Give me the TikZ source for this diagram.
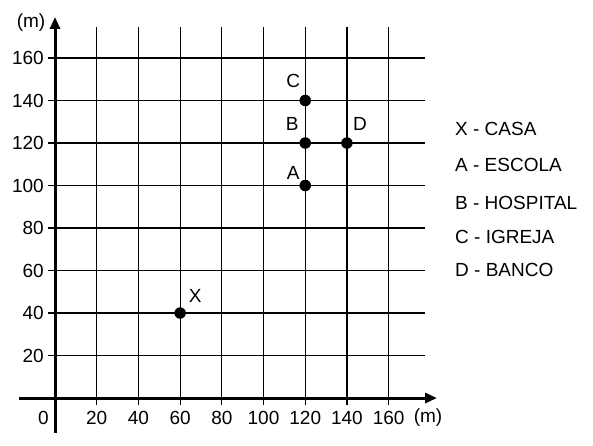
\documentclass[tikz,border=0pt]{standalone}
\usepackage{fontspec}
\setmainfont{Liberation Sans}
\usetikzlibrary{arrows.meta}
\begin{document}
\begin{tikzpicture}[x=2.085pt,y=2.125pt,
  gridline/.style={line width=1.2pt,black},
  axisline/.style={line width=3pt,-{Triangle[length=12pt,width=10pt]}},
  dot/.style={circle,fill,inner sep=0pt,minimum size=11.5pt},
  lbl/.style={font=\fontsize{19}{21}\selectfont,inner sep=0pt},
  ]
\useasboundingbox (-26.38,-22.12) rectangle (258.0,187.3);
\foreach \v in {20,40,...,160} {
  \draw[gridline] (\v,-3.3) -- (\v,174.6);
  \draw[gridline] (-3.4,\v) -- (177.5,\v);
  \node[lbl,anchor=east] (yl\v) at (-5.3,\v) {\v};
  \node[lbl] (xl\v) at (\v,-9.4) {\v};
}
\draw[axisline] (-17.3,0) -- (183.2,0);
\draw[axisline] (0,-16.5) -- (0,179.3);
\node[lbl] (zero) at (-5.6,-9.4) {0};
\node[lbl] (ym) at (-11.5,176.5) {(m)};
\node[lbl] (xm) at (178.9,-9.4) {(m)};
% points
\node[dot] (X) at (60,40) {};
\node[dot] (A) at (120,100) {};
\node[dot] (B) at (120,120) {};
\node[dot] (C) at (120,140) {};
\node[dot] (D) at (140,120) {};
\node[lbl] (Xl) at ([xshift=15pt,yshift=17pt]X.center) {X};
\node[lbl] (Al) at ([xshift=-12pt,yshift=12.5pt]A.center) {A};
\node[lbl] (Bl) at ([xshift=-13pt,yshift=19pt]B.center) {B};
\node[lbl] (Cl) at ([xshift=-12pt,yshift=20pt]C.center) {C};
\node[lbl] (Dl) at ([xshift=13pt,yshift=19pt]D.center) {D};
% legend
\node[lbl,anchor=west] (L1) at (191.8,126.6) {X - CASA};
\node[lbl,anchor=west] (L2) at (191.8,109.6) {A - ESCOLA};
\node[lbl,anchor=west] (L3) at (191.8,91.8) {B - HOSPITAL};
\node[lbl,anchor=west] (L4) at (191.8,75.8) {C - IGREJA};
\node[lbl,anchor=west] (L5) at (191.8,60.2) {D - BANCO};
\end{tikzpicture}
\end{document}
